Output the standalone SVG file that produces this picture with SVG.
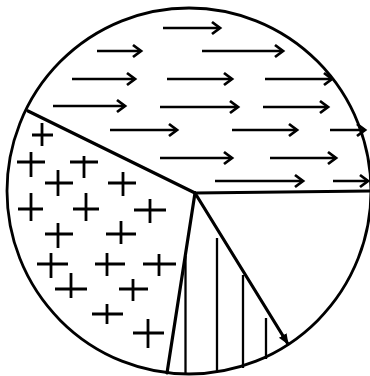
<svg xmlns="http://www.w3.org/2000/svg" width="370" height="376" viewBox="0 0 370 376">
<defs>
<style>
.bg{fill:#fff}
.rim{fill:none;stroke:#000;stroke-width:2.8}
.edge{fill:none;stroke:#000;stroke-width:3.2;stroke-linecap:round}
.arr{fill:none;stroke:#000;stroke-width:2.6;marker-end:url(#chev)}
.plus{fill:none;stroke:#000;stroke-width:2.8}
.hatch{fill:none;stroke:#000;stroke-width:2.3}
</style>
<marker id="chev" markerUnits="userSpaceOnUse" markerWidth="14" markerHeight="16" refX="11" refY="8" orient="auto">
<path d="M3,2 L11,8 L3,14" fill="none" stroke="#000" stroke-width="2.8"/>
</marker>
<marker id="tri" markerUnits="userSpaceOnUse" markerWidth="12" markerHeight="12" refX="10" refY="6" orient="auto">
<path d="M0,1.5 L11,6 L0,10.5 Z" fill="#000"/>
</marker>
</defs>
<rect class="bg" x="0" y="0" width="370" height="376"/>
<g id="pie">
<ellipse class="rim" cx="189" cy="191" rx="182" ry="183"/>
</g>
<g id="connectors">
<line class="edge" x1="195" y1="193" x2="28" y2="111"/>
<line class="edge" x1="195" y1="193" x2="370" y2="191"/>
<line class="edge" x1="195" y1="193" x2="167" y2="373" stroke-width="3.6"/>
<line class="edge" x1="195" y1="193" x2="288" y2="344" marker-end="url(#tri)"/>
</g>
<g id="arrows-sector">
<line class="arr" x1="163" y1="28" x2="220" y2="28"/>
<line class="arr" x1="97" y1="51" x2="141" y2="51"/>
<line class="arr" x1="202" y1="51" x2="283" y2="51"/>
<line class="arr" x1="72" y1="79" x2="135" y2="79"/>
<line class="arr" x1="167" y1="79" x2="232" y2="79"/>
<line class="arr" x1="265" y1="79" x2="332" y2="79"/>
<line class="arr" x1="53" y1="106" x2="125" y2="106"/>
<line class="arr" x1="160" y1="107" x2="238" y2="107"/>
<line class="arr" x1="263" y1="107" x2="328" y2="107"/>
<line class="arr" x1="110" y1="130" x2="177" y2="130"/>
<line class="arr" x1="232" y1="130" x2="297" y2="130"/>
<line class="arr" x1="330" y1="130" x2="365" y2="130"/>
<line class="arr" x1="160" y1="158" x2="232" y2="158"/>
<line class="arr" x1="270" y1="158" x2="336" y2="158"/>
<line class="arr" x1="215" y1="181" x2="303" y2="181"/>
<line class="arr" x1="333" y1="181" x2="368" y2="181"/>
</g>
<g id="plus-sector">
<path class="plus" d="M32,135H53M42,123V146"/>
<path class="plus" d="M17,162H45M31,152V177"/>
<path class="plus" d="M70,162H98M84,156V178"/>
<path class="plus" d="M45,183H73M58,170V196"/>
<path class="plus" d="M108,183H136M123,172V196"/>
<path class="plus" d="M18,209H43M31,193V221"/>
<path class="plus" d="M73,209H99M86,193V221"/>
<path class="plus" d="M134,210H166M150,199V223"/>
<path class="plus" d="M45,234H73M58,223V248"/>
<path class="plus" d="M106,234H136M121,221V244"/>
<path class="plus" d="M37,264H68M51,253V278"/>
<path class="plus" d="M95,264H125M107,253V276"/>
<path class="plus" d="M143,264H176M159,254V276"/>
<path class="plus" d="M55,289H87M71,273V298"/>
<path class="plus" d="M119,289H148M133,279V301"/>
<path class="plus" d="M92,314H123M107,304V324"/>
<path class="plus" d="M133,333H164M148,319V348"/>
</g>
<g id="hatch-sector">
<line class="hatch" x1="185.5" y1="256" x2="185.5" y2="373"/>
<line class="hatch" x1="217" y1="238" x2="217" y2="371"/>
<line class="hatch" x1="243" y1="275" x2="243" y2="368"/>
<line class="hatch" x1="266" y1="318" x2="266" y2="359"/>
</g>
</svg>
